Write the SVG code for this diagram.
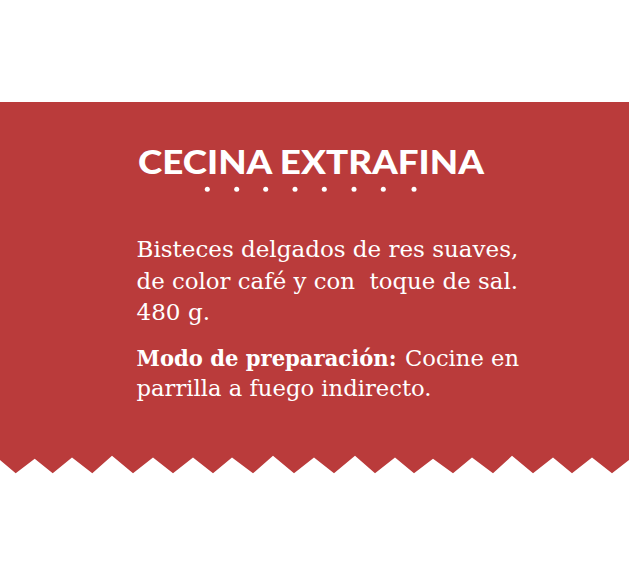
<svg xmlns="http://www.w3.org/2000/svg" width="644" height="575" viewBox="0 0 644 575">
<style>
.body{font-family:"DejaVu Serif","Liberation Serif",serif;font-size:23px;fill:#fff}
.bold{font-weight:bold}
.title{font-family:Lato,"Open Sans",sans-serif;font-weight:900;font-size:31.5px;fill:#fff}
.dot{fill:#fff}
</style>
<rect width="644" height="575" fill="#fff"/>
<g id="band">
<path fill="#BA3B3B" d="M0,102 H629 V460 L612,473.3 L592,457.4 L572,473.3 L553,457.4 L533,473.3 L512,455.8 L493,473.3 L472,457.4 L453,473.3 L433,458.7 L414,473.3 L395,457.4 L375,473.3 L355,455.8 L334,473.3 L314,457.4 L294,473.3 L273,455.8 L253,473.3 L232,457.4 L213,473.3 L193,457.4 L173,473.3 L153,457.4 L133,473.3 L112,455.8 L92.3,473.3 L72,457.4 L52.7,473.3 L34.7,458.7 L15.7,473.3 L0,460 Z"/>
</g>
<g id="title">
<text class="title" x="138" y="174.3" textLength="346" lengthAdjust="spacingAndGlyphs">CECINA EXTRAFINA</text>
<circle class="dot" cx="207.3" cy="189.3" r="2.5"/>
<circle class="dot" cx="236.7" cy="189.3" r="2.5"/>
<circle class="dot" cx="265.7" cy="189.3" r="2.5"/>
<circle class="dot" cx="295" cy="189.3" r="2.5"/>
<circle class="dot" cx="324.3" cy="189.3" r="2.5"/>
<circle class="dot" cx="354" cy="189.3" r="2.5"/>
<circle class="dot" cx="383.3" cy="189.3" r="2.5"/>
<circle class="dot" cx="414" cy="189.3" r="2.5"/>
</g>
<g id="description">
<text class="body" x="136.5" y="256.7" textLength="381.8" lengthAdjust="spacingAndGlyphs">Bisteces delgados de res suaves,</text>
<text class="body" x="136.5" y="289" textLength="381.5" lengthAdjust="spacingAndGlyphs" xml:space="preserve">de color café y con  toque de sal.</text>
<text class="body" x="136.5" y="320" textLength="73.5" lengthAdjust="spacingAndGlyphs">480 g.</text>
<text class="body bold" x="0" y="0" transform="translate(136.5,366) scale(0.8,1)" textLength="325" lengthAdjust="spacingAndGlyphs">Modo de preparación:</text>
<text class="body" x="405" y="366" textLength="114" lengthAdjust="spacingAndGlyphs">Cocine en</text>
<text class="body" x="136.5" y="395.5" textLength="295" lengthAdjust="spacingAndGlyphs">parrilla a fuego indirecto.</text>
</g>
</svg>
